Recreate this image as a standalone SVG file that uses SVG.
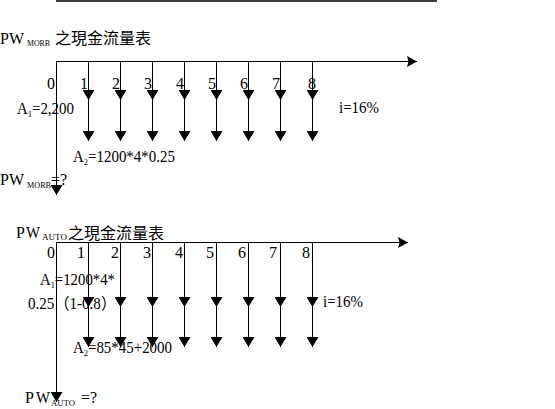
<svg xmlns="http://www.w3.org/2000/svg" width="555" height="409" viewBox="0 0 555 409">
<style>
.t{font-family:"Liberation Serif","Noto Sans CJK TC",serif;font-size:16px;fill:#000}
.c{font-family:"Noto Sans CJK TC","Noto Sans CJK SC",sans-serif;font-size:16px;fill:#000}
.s{font-size:8px}
.ln{stroke:#000;stroke-width:1;fill:none}
.d{marker-end:url(#ad)}
.r{marker-end:url(#ar)}
</style>
<defs>
<marker id="ad" markerUnits="userSpaceOnUse" viewBox="0 0 10 12" markerWidth="10" markerHeight="12" refX="10" refY="6" orient="auto">
<path d="M0,0 L10,6 L0,12 Z" fill="#000"/>
</marker>
<marker id="ar" markerUnits="userSpaceOnUse" viewBox="0 0 10 11" markerWidth="10" markerHeight="11" refX="10" refY="5.5" orient="auto">
<path d="M0,0 L10,5.5 L0,11 L1.5,5.5 Z" fill="#000"/>
</marker>
</defs>
<line x1="56" y1="1" x2="437" y2="1" stroke="#000" stroke-width="1.5"/>

<g id="diagram-morb">
<g id="title-morb">
<text class="t" x="0" y="44">PW</text>
<text class="t s" x="27" y="46" textLength="23" lengthAdjust="spacingAndGlyphs">MORB</text>
<text class="c" x="55" y="44">之現金流量表</text>
</g>
<g id="connectors-morb">
<line class="ln r" x1="56" y1="61.5" x2="417" y2="61.5"/>
<line class="ln d" x1="56.5" y1="61" x2="56.5" y2="195"/>
<path class="ln d" d="M88.5,61 V100"/><path class="ln d" d="M88.5,100 V141"/>
<path class="ln d" d="M120.5,61 V100"/><path class="ln d" d="M120.5,100 V141"/>
<path class="ln d" d="M152.5,61 V100"/><path class="ln d" d="M152.5,100 V141"/>
<path class="ln d" d="M184.5,61 V100"/><path class="ln d" d="M184.5,100 V141"/>
<path class="ln d" d="M216.5,61 V100"/><path class="ln d" d="M216.5,100 V141"/>
<path class="ln d" d="M248.5,61 V100"/><path class="ln d" d="M248.5,100 V141"/>
<path class="ln d" d="M280.5,61 V100"/><path class="ln d" d="M280.5,100 V141"/>
<path class="ln d" d="M312.5,61 V100"/><path class="ln d" d="M312.5,100 V141"/>
</g>
<g id="labels-morb" class="t" text-anchor="end">
<text x="55" y="89">0</text>
<text x="88" y="89">1</text>
<text x="120" y="89">2</text>
<text x="152" y="89">3</text>
<text x="184" y="89">4</text>
<text x="216" y="89">5</text>
<text x="248" y="89">6</text>
<text x="280" y="89">7</text>
<text x="312" y="89" text-anchor="middle">8</text>
</g>
<text class="t" x="17" y="114" textLength="57" lengthAdjust="spacingAndGlyphs">A<tspan font-size="9" dy="3">1</tspan><tspan dy="-3">=2,200</tspan></text>
<text class="t" x="339" y="113" textLength="40" lengthAdjust="spacingAndGlyphs">i=16%</text>
<text class="t" x="73" y="162" textLength="102" lengthAdjust="spacingAndGlyphs">A<tspan font-size="9" dy="3">2</tspan><tspan dy="-3">=1200*4*0.25</tspan></text>
<g id="pw-morb">
<text class="t" x="0" y="185">PW</text>
<text class="t s" x="27" y="188" textLength="24" lengthAdjust="spacingAndGlyphs">MORB</text>
<text class="t" x="51" y="185">=?</text>
</g>
</g>

<g id="diagram-auto">
<g id="title-auto">
<text class="t" x="16" y="238" font-size="15">P</text>
<text class="t" x="26" y="238" font-size="15" textLength="14" lengthAdjust="spacingAndGlyphs">W</text>
<text class="t s" x="42" y="240" textLength="25" lengthAdjust="spacingAndGlyphs">AUTO</text>
<text class="c" x="68" y="239">之現金流量表</text>
</g>
<g id="connectors-auto">
<line class="ln r" x1="56" y1="242.5" x2="408" y2="242.5"/>
<line class="ln d" x1="56.5" y1="242" x2="56.5" y2="402"/>
<path class="ln d" d="M88.5,242 V307"/><path class="ln d" d="M88.5,307 V347"/>
<path class="ln d" d="M120.5,242 V307"/><path class="ln d" d="M120.5,307 V347"/>
<path class="ln d" d="M152.5,242 V307"/><path class="ln d" d="M152.5,307 V347"/>
<path class="ln d" d="M184.5,242 V307"/><path class="ln d" d="M184.5,307 V347"/>
<path class="ln d" d="M216.5,242 V307"/><path class="ln d" d="M216.5,307 V347"/>
<path class="ln d" d="M248.5,242 V307"/><path class="ln d" d="M248.5,307 V347"/>
<path class="ln d" d="M280.5,242 V307"/><path class="ln d" d="M280.5,307 V347"/>
<path class="ln d" d="M312.5,242 V307"/><path class="ln d" d="M312.5,307 V347"/>
</g>
<g id="labels-auto" class="t" text-anchor="end">
<text x="55" y="258">0</text>
<text x="85" y="258">1</text>
<text x="119" y="258">2</text>
<text x="151" y="258">3</text>
<text x="183" y="258">4</text>
<text x="214" y="258">5</text>
<text x="246" y="258">6</text>
<text x="277" y="258">7</text>
<text x="310" y="258">8</text>
</g>
<text class="t" x="40" y="285" textLength="75" lengthAdjust="spacingAndGlyphs">A<tspan font-size="9" dy="3">1</tspan><tspan dy="-3">=1200*4*</tspan></text>
<text class="t" x="28" y="309" textLength="88" lengthAdjust="spacingAndGlyphs">0.25（1-0.8）</text>
<text class="t" x="323" y="307" textLength="40" lengthAdjust="spacingAndGlyphs">i=16%</text>
<text class="t" x="73" y="353" textLength="99" lengthAdjust="spacingAndGlyphs">A<tspan font-size="9" dy="3">2</tspan><tspan dy="-3">=85*45+2000</tspan></text>
<g id="pw-auto">
<text class="t" x="25" y="403" font-size="15">P</text>
<text class="t" x="36" y="403" font-size="15" textLength="14" lengthAdjust="spacingAndGlyphs">W</text>
<text class="t s" x="51" y="406" textLength="24" lengthAdjust="spacingAndGlyphs">AUTO</text>
<text class="t" x="81" y="403">=?</text>
</g>
</g>
</svg>
